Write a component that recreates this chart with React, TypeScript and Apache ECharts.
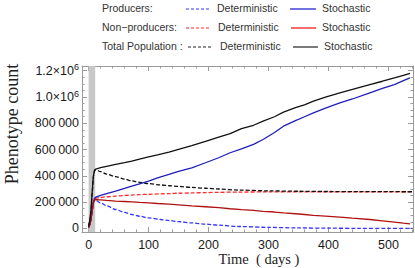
import React, { useEffect, useRef } from "react";
import * as echarts from "echarts";

// deterministic model (days -> phenotype count)
const detTime = [0, 2, 4, 6, 8, 10, 12, 20, 30, 45, 60, 72, 85, 100, 120, 135, 150, 172, 195, 217, 250, 300, 350, 400, 450, 500, 540];
const detProducers = [8000, 28000, 65000, 135000, 195000, 213000, 212000, 195000, 172000, 144000, 122000, 106000, 93000, 81000, 68000, 60000, 52000, 42000, 33000, 25000, 15000, 8000, 4000, 2000, 1000, 500, 300];
const detNonProducers = [7000, 27000, 65000, 135000, 200000, 226000, 230000, 236000, 241000, 246000, 251000, 254000, 257000, 260000, 263000, 265000, 268000, 270000, 273000, 275000, 277000, 278000, 279000, 279000, 279000, 279000, 279000];
const detTotal = [15000, 55000, 130000, 270000, 395000, 439000, 446000, 432000, 413000, 394000, 375000, 362000, 351000, 341000, 331000, 325000, 320000, 312000, 306000, 300000, 292000, 286000, 283000, 281000, 280000, 279500, 279300];

// stochastic simulation
const stoTime = [0, 2, 4, 6, 8, 10, 12, 20, 30, 45, 60, 72, 85, 100, 115, 134, 150, 172, 195, 217, 236, 255, 275, 291, 310, 325, 345, 360, 375, 395, 419, 440, 469, 490, 510, 525, 536];
const stoProducers = [8000, 30000, 70000, 140000, 200000, 230000, 238000, 252000, 265000, 284000, 305000, 322000, 340000, 360000, 385000, 411000, 435000, 461000, 500000, 538000, 576000, 605000, 640000, 677000, 730000, 778000, 820000, 850000, 880000, 915000, 956000, 985000, 1032000, 1065000, 1095000, 1125000, 1146000];
const stoNonProducers = [7000, 30000, 70000, 140000, 200000, 218000, 220000, 217000, 213000, 208000, 205000, 202000, 198000, 195000, 190000, 185000, 180000, 172000, 165000, 158000, 150000, 143000, 137000, 130000, 125000, 118000, 112000, 106000, 100000, 94000, 86000, 78000, 68000, 58000, 48000, 40000, 35000];
const stoTotal = [15000, 60000, 140000, 280000, 400000, 445000, 452000, 462000, 472000, 487000, 500000, 512000, 528000, 545000, 560000, 580000, 601000, 630000, 662000, 695000, 722000, 760000, 785000, 816000, 850000, 885000, 920000, 940000, 968000, 1000000, 1032000, 1058000, 1095000, 1120000, 1145000, 1165000, 1179000];

const shadedRange = [0, 11];

const xTicks = [0, 100, 200, 300, 400, 500];
const xMinorTicks = [-0, 20, 40, 60, 80, 120, 140, 160, 180, 220, 240, 260, 280, 320, 340, 360, 380, 420, 440, 460, 480, 520, 540];
const yTicks = [0, 200000, 400000, 600000, 800000, 1000000, 1200000];
const yTickLabels = ["0", "200\u2009000", "400\u2009000", "600\u2009000", "800\u2009000", "1.0×10^6", "1.2×10^6"];
const yMinorTicks = [50000, 100000, 150000, 250000, 300000, 350000, 450000, 500000, 550000, 650000, 700000, 750000, 850000, 900000, 950000, 1050000, 1100000, 1150000];

const SANS = "Liberation Sans, Arial, sans-serif";
const SERIF = "Liberation Serif, Times New Roman, serif";
const FRAME = "#9a9a9a";

const zip = (t: number[], v: number[]) => t.map((x, i) => [x, v[i]]);

export default function App() {
  const ref = useRef<HTMLDivElement>(null);
  useEffect(() => {
    if (!ref.current) return;
    const chart = echarts.init(ref.current, null, { renderer: "svg" });
    const xMin = -11, xMax = 541, yMin = -27000, yMax = 1236000;

    const xAx = (pos: string, ticks: number[], len: number, labels: boolean, line: boolean) => ({
      type: "value", position: pos, min: xMin, max: xMax, splitLine: { show: false },
      axisLine: { show: line, onZero: false, lineStyle: { color: FRAME, width: 1 } },
      axisTick: { show: true, inside: true, length: len, customValues: ticks, lineStyle: { color: FRAME } },
      axisLabel: labels ? { show: true, customValues: xTicks, margin: 6, color: "#1a1a1a", fontSize: 12.5, fontFamily: SANS } : { show: false },
    });
    const yAx = (pos: string, ticks: number[], len: number, labels: boolean, line: boolean) => ({
      type: "value", position: pos, min: yMin, max: yMax, splitLine: { show: false },
      axisLine: { show: line, onZero: false, lineStyle: { color: FRAME, width: 1 } },
      axisTick: { show: true, inside: true, length: len, customValues: ticks, lineStyle: { color: FRAME } },
      axisLabel: labels ? {
        show: true, customValues: yTicks, margin: 3, color: "#1a1a1a", fontSize: 12.5, fontFamily: SANS,
        formatter: (v: number) => {
          const i = yTicks.indexOf(v);
          const s = i >= 0 ? yTickLabels[i] : "";
          if (s.includes("^")) {
            const [m, e] = s.split("^");
            return `{m|${m}}{s|${e}}`;
          }
          return s;
        },
        rich: {
          m: { fontSize: 12.5, fontFamily: SANS, color: "#1a1a1a" },
          s: { fontSize: 9, fontFamily: SANS, color: "#1a1a1a", padding: [0, 0, 7, 0] },
        },
      } : { show: false },
    });

    const lineSeries = (name: string, t: number[], v: number[], color: string, dashed: boolean, width = 1.3) => ({
      name, type: "line", data: zip(t, v), showSymbol: false, symbol: "none",
      smooth: dashed ? 0.3 : false, smoothMonotone: "x",
      lineStyle: { color, width, type: dashed ? [4, 2] : "solid" },
      xAxisIndex: 0, yAxisIndex: 0, z: 3,
    });

    const legendRows = [
      { label: "Producers:", y: 9, d: [186, 210], dt: 217, s: [290, 316], st: 322, dc: "#3535ff", sc: "#2424d0" },
      { label: "Non\u2212producers:", y: 28, d: [186, 211], dt: 218, s: [291, 316], st: 322, dc: "#ff2a2a", sc: "#ee1c1c" },
      { label: "Total Population :", y: 47, d: [188, 212], dt: 220, s: [293, 318], st: 324, dc: "#222222", sc: "#333333" },
    ];
    const graphics: any[] = [];
    legendRows.forEach((r) => {
      graphics.push({ type: "text", left: 102, top: r.y - 7, style: { text: r.label, fontSize: 10.5, fontFamily: SANS, fill: "#333" } });
      graphics.push({ type: "line", shape: { x1: r.d[0], y1: r.y, x2: r.d[1], y2: r.y }, style: { stroke: r.dc, lineWidth: 1.2, lineDash: [3, 2] } });
      graphics.push({ type: "text", left: r.dt, top: r.y - 7, style: { text: "Deterministic", fontSize: 10.5, fontFamily: SANS, fill: "#333" } });
      graphics.push({ type: "line", shape: { x1: r.s[0], y1: r.y, x2: r.s[1], y2: r.y }, style: { stroke: r.sc, lineWidth: 1.3 } });
      graphics.push({ type: "text", left: r.st, top: r.y - 7, style: { text: "Stochastic", fontSize: 10.5, fontFamily: SANS, fill: "#333" } });
    });
    graphics.push({
      type: "text", x: 12, y: 124, rotation: Math.PI / 2,
      style: { text: "Phenotype count", fontSize: 18, fontFamily: SERIF, fill: "#222", align: "center", verticalAlign: "middle" },
    });
    graphics.push({
      type: "text", x: 259, y: 259,
      style: { text: "Time  ( days )", fontSize: 14.5, fontFamily: SERIF, fill: "#222", align: "center", verticalAlign: "middle" },
    });

    chart.setOption({
      animation: false,
      backgroundColor: "#ffffff",
      grid: { left: 82, right: 2, top: 66, bottom: 36, outerBoundsMode: "none", containLabel: false },
      xAxis: [
        xAx("bottom", xTicks, 5, true, true),
        xAx("bottom", xMinorTicks, 2.5, false, false),
        xAx("top", xTicks, 5, false, true),
        xAx("top", xMinorTicks, 2.5, false, false),
      ],
      yAxis: [
        yAx("left", yTicks, 5, true, true),
        yAx("left", yMinorTicks, 2.5, false, false),
        yAx("right", yTicks, 5, false, true),
        yAx("right", yMinorTicks, 2.5, false, false),
      ],
      series: [
        {
          ...lineSeries("Producers deterministic", detTime, detProducers, "#3535ff", true),
          markArea: {
            silent: true,
            itemStyle: { color: "#c8c8c8" },
            data: [[{ xAxis: shadedRange[0] }, { xAxis: shadedRange[1] }]],
          },
        },
        lineSeries("Non-producers deterministic", detTime, detNonProducers, "#ff2a2a", true),
        lineSeries("Total deterministic", detTime, detTotal, "#111111", true),
        lineSeries("Producers stochastic", stoTime, stoProducers, "#1f1fb8", false),
        lineSeries("Non-producers stochastic", stoTime, stoNonProducers, "#b01212", false),
        lineSeries("Total stochastic", stoTime, stoTotal, "#111111", false),
      ],
      graphic: graphics,
    });
    return () => chart.dispose();
  }, []);
  return <div ref={ref} style={{ width: 415, height: 268, position: "absolute", left: 0, top: 0 }} />;
}
